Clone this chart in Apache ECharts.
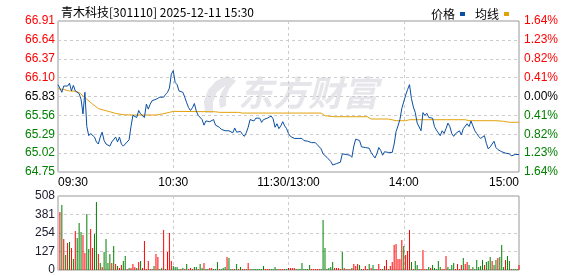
<!DOCTYPE html>
<html><head><meta charset="utf-8">
<script src="https://cdn.jsdelivr.net/npm/echarts@6/dist/echarts.min.js"></script>
<style>html,body{margin:0;padding:0;background:#fff}#c{width:578px;height:276px}</style>
</head><body><div id="c"></div>
<script>
const titleText = '青木科技[301110] 2025-12-11 15:30';
const seriesNames = ['价格', '均线'];
const watermarkText = '东方财富';
const preClose = 65.83;
const priceTicks = [64.75, 65.02, 65.29, 65.56, 65.83, 66.10, 66.37, 66.64, 66.91];
const pctTicks = [-1.64, -1.23, -0.82, -0.41, 0, 0.41, 0.82, 1.23, 1.64];
const volumeTicks = [0, 127, 254, 381, 508];
const timeTicks = ['09:30', '10:30', '11:30/13:00', '14:00', '15:00'];
// [minute index from 09:30, price]
const priceData = [
[0,66.00],[2,65.89],[3,65.98],[5,65.98],[6,66.02],[7,65.91],[8,65.99],[9,65.91],[10,65.89],[11,65.87],
[12,65.79],[13,65.58],[14,65.89],[15,65.40],[16,65.27],[17,65.30],[18,65.32],[19,65.25],[20,65.18],[21,65.15],
[22,65.25],[23,65.32],[24,65.20],[25,65.15],[26,65.14],[27,65.12],[28,65.18],[29,65.20],[30,65.25],[31,65.18],
[32,65.25],[33,65.15],[34,65.12],[35,65.15],[36,65.13],[37,65.21],[38,65.40],[39,65.56],[40,65.58],[41,65.53],
[42,65.63],[43,65.58],[44,65.56],[45,65.53],[46,65.72],[47,65.65],[48,65.72],[49,65.77],[50,65.75],[51,65.79],
[52,65.80],[53,65.82],[54,65.84],[55,65.82],[56,65.86],[57,65.89],[58,65.95],[59,66.15],[60,66.20],[61,66.03],
[62,66.00],[63,65.91],[64,65.89],[65,65.89],[66,65.82],[67,65.74],[68,65.67],[69,65.63],[70,65.67],[71,65.73],
[72,65.62],[73,65.56],[74,65.58],[75,65.50],[76,65.42],[77,65.48],[78,65.46],[79,65.47],[80,65.46],[81,65.50],
[82,65.42],[83,65.41],[84,65.39],[85,65.36],[86,65.34],[87,65.34],[88,65.33],[89,65.34],[90,65.32],[91,65.31],
[92,65.38],[93,65.32],[94,65.31],[95,65.33],[96,65.29],[97,65.26],[98,65.31],[99,65.39],[100,65.50],[101,65.51],
[102,65.48],[103,65.52],[104,65.50],[105,65.52],[106,65.46],[107,65.50],[108,65.48],[109,65.52],[110,65.53],[111,65.55],
[112,65.51],[113,65.39],[114,65.44],[115,65.37],[116,65.41],[117,65.47],[118,65.41],[119,65.37],[120,65.30],
[121,65.26],[122,65.25],[123,65.23],[124,65.22],[125,65.23],[126,65.22],[127,65.23],[128,65.20],[129,65.21],[130,65.19],
[131,65.20],[132,65.17],[133,65.15],[134,65.17],[135,65.14],[136,65.15],[137,65.08],[138,65.01],[139,64.99],[140,64.96],
[141,64.94],[142,64.90],[143,64.85],[144,64.87],[145,64.87],[146,64.88],[147,64.89],[148,65.01],[149,64.99],[150,65.00],
[151,64.98],[152,64.99],[153,64.96],[154,65.12],[155,65.22],[156,65.23],[157,65.20],[158,65.11],[159,65.09],[160,65.10],
[161,65.10],[162,65.09],[163,65.03],[164,64.99],[165,64.95],[166,65.01],[167,65.10],[168,65.06],[169,64.99],[170,65.04],
[171,65.03],[172,65.03],[173,65.03],[174,65.03],[175,65.15],[176,65.33],[177,65.41],[178,65.50],[179,65.66],[180,65.65],
[181,65.85],[182,65.93],[183,66.00],[184,65.80],[185,65.68],[186,65.60],[187,65.45],[188,65.43],[189,65.34],[190,65.60],
[191,65.56],[192,65.59],[193,65.53],[194,65.51],[195,65.52],[196,65.40],[197,65.35],[198,65.31],[199,65.27],[200,65.34],
[201,65.30],[202,65.37],[203,65.45],[204,65.40],[205,65.30],[206,65.26],[207,65.30],[208,65.28],[209,65.34],[210,65.28],
[211,65.37],[212,65.39],[213,65.44],[214,65.40],[215,65.48],[216,65.41],[217,65.34],[218,65.30],[219,65.26],[220,65.23],
[221,65.22],[222,65.27],[223,65.16],[224,65.08],[225,65.11],[226,65.12],[227,65.19],[228,65.10],[229,65.07],[230,65.07],
[231,65.04],[232,65.03],[233,65.02],[234,65.02],[235,65.01],[236,64.98],[237,65.00],[238,65.00],[239,65.00],[240,65.00]
];
// [minute index, average price]
const avgData = [
[0,65.94],[3,65.93],[6,65.91],[9,65.905],[11,65.887],[13,65.839],[15,65.792],[18,65.721],[21,65.659],[23,65.641],
[27,65.612],[30,65.588],[34,65.569],[39,65.565],[51,65.565],[54,65.579],[58,65.603],[60,65.617],[82,65.612],[84,65.603],
[94,65.603],[96,65.593],[120,65.593],[137,65.593],[139,65.555],[144,65.541],[161,65.541],[163,65.508],[172,65.508],[176,65.484],
[181,65.484],[183,65.498],[212,65.498],[214,65.484],[228,65.484],[232,65.475],[235,65.461],[240,65.461]
];
// [minute index, volume, 1 = up(red) / 0 = down(green)]
const volumeBars = [
[1,398,1],[2,446,0],[3,213,1],[4,103,0],[5,185,1],[6,192,0],[7,151,1],[8,75,0],[9,268,1],[10,220,0],
[11,323,0],[12,261,0],[13,240,1],[14,117,1],[15,384,0],[16,144,0],[17,281,1],[18,151,1],[19,247,0],[20,467,0],
[21,110,1],[22,48,0],[23,21,1],[24,124,0],[25,213,0],[26,48,0],[27,110,0],[28,48,1],[29,165,0],[30,41,1],
[31,27,0],[32,14,1],[33,34,1],[34,62,0],[35,96,0],[36,7,1],[37,14,0],[38,14,1],[39,41,1],[40,21,1],
[41,14,0],[42,55,1],[43,62,0],[44,14,1],[45,199,1],[46,7,1],[47,62,1],[48,7,0],[49,7,1],[50,27,0],
[51,110,1],[52,89,1],[53,7,0],[54,14,0],[55,275,1],[56,7,0],[57,124,1],[58,254,1],[59,62,1],[60,27,0],
[61,21,0],[62,21,0],[63,7,0],[64,7,1],[65,14,0],[66,7,1],[67,41,0],[68,7,1],[69,14,1],[70,7,1],
[71,21,0],[72,21,0],[73,7,1],[74,41,0],[75,14,0],[76,48,1],[77,7,0],[78,7,0],[79,14,1],[80,14,1],
[81,7,0],[82,7,0],[83,55,0],[84,7,1],[85,7,0],[86,14,0],[87,21,0],[88,89,1],[89,82,0],[90,7,0],
[91,7,1],[92,7,0],[93,41,0],[94,7,1],[95,21,0],[96,7,1],[97,7,1],[98,7,0],[99,48,1],[100,7,1],
[101,7,0],[102,7,0],[103,7,0],[104,7,0],[105,7,0],[106,7,0],[107,27,0],[108,7,1],[109,7,1],[110,7,1],
[111,7,0],[112,7,0],[113,21,0],[114,7,0],[115,7,1],[116,7,1],[117,7,1],[118,7,0],[119,7,0],[120,14,1],
[121,14,1],[122,14,1],[123,14,1],[124,7,0],[125,7,0],[126,7,0],[127,48,0],[128,7,0],[129,7,0],[130,7,0],
[131,34,0],[132,7,1],[133,7,1],[134,7,1],[135,7,1],[136,7,1],[137,7,0],[138,343,0],[139,151,0],[140,7,0],
[141,14,0],[142,21,0],[143,55,0],[144,14,1],[145,14,1],[146,14,1],[147,7,1],[148,124,0],[149,14,1],[150,7,0],
[151,7,1],[152,7,1],[153,14,0],[154,41,1],[155,27,1],[156,41,1],[157,34,0],[158,7,0],[159,7,1],[160,27,1],
[161,7,1],[162,41,0],[163,14,1],[164,34,0],[165,7,0],[166,7,1],[167,41,1],[168,7,1],[169,7,0],[170,27,1],
[171,69,1],[172,7,0],[173,27,1],[174,55,1],[175,172,1],[176,178,1],[177,75,1],[178,75,1],[179,206,1],[180,165,0],
[181,103,1],[182,130,1],[183,275,1],[184,55,0],[185,7,1],[186,62,0],[187,34,0],[188,7,0],[189,7,1],[190,137,1],
[191,7,1],[192,7,0],[193,21,0],[194,14,1],[195,34,0],[196,14,0],[197,7,0],[198,62,0],[199,21,0],[200,7,1],
[201,7,1],[202,96,1],[203,21,0],[204,7,0],[205,34,0],[206,48,0],[207,7,1],[208,41,1],[209,7,1],[210,34,1],
[211,82,0],[212,41,1],[213,55,1],[214,34,0],[215,7,1],[216,21,0],[217,7,0],[218,69,0],[219,21,0],[220,27,0],
[221,69,0],[222,34,1],[223,55,0],[224,62,0],[225,89,0],[226,62,1],[227,34,0],[228,69,0],[229,82,1],[230,89,0],
[231,172,0],[232,21,0],[233,69,1],[234,96,0],[235,62,0],[236,7,1],[237,7,0],[238,7,0],[239,7,0],[240,34,1]
];

const RED = '#ff0000', GREEN = '#008000', BLACK = '#000000';
const PRICE_COLOR = '#0b4fa3', AVG_COLOR = '#e3a20a';
const NUM_FONT = '"Liberation Sans", Arial, sans-serif';
const CJK_FONT = '"Noto Sans CJK SC", "Liberation Sans", sans-serif';
const span = priceTicks[1] - priceTicks[0];
const pSpan = pctTicks[1] - pctTicks[0];

function priceColor(v) { const d = v - preClose; return Math.abs(d) < 1e-6 ? BLACK : (d > 0 ? RED : GREEN); }
function pctColor(v) { return Math.abs(v) < 1e-6 ? BLACK : (v > 0 ? RED : GREEN); }

const dashed = { show: true, lineStyle: { color: '#cccccc', type: [3, 3], width: 1 } };
const chart = echarts.init(document.getElementById('c'), null, { renderer: 'canvas' });
chart.setOption({
  animation: false,
  backgroundColor: '#ffffff',
  title: { text: titleText, left: 56, top: 1, textStyle: { fontSize: 12, fontWeight: 'normal', color: '#000', fontFamily: CJK_FONT } },
  legend: {
    data: seriesNames, right: 64, top: 3, icon: 'rect', itemWidth: 5, itemHeight: 4, align: 'right', itemGap: 10,
    textStyle: { fontSize: 12, color: '#000', fontFamily: CJK_FONT }
  },
  graphic: [
    { type: 'polygon', z: 0, silent: true,
      shape: { points: [[227,76],[216,81],[208,90],[204,101],[205,113],[213,113],[213,102],[217,92],[226,85],[221,93],[219,101],[220,108],[226,106],[226,97],[229,89],[236,81],[232,78]] },
      style: { fill: '#e6e6ea' } },
    { type: 'text', left: 238, top: 75, z: 0, silent: true,
      style: { text: watermarkText, font: 'italic bold 35px "Noto Sans CJK SC"', fill: '#e6e6ea' } }
  ],
  grid: [
    { left: 58, top: 21, width: 461, height: 151, show: true, borderColor: '#999', borderWidth: 1, backgroundColor: 'transparent' },
    { left: 58, top: 196, width: 461, height: 74, show: true, borderColor: '#999', borderWidth: 1, backgroundColor: 'transparent' }
  ],
  xAxis: [
    { type: 'value', gridIndex: 0, min: 0, max: 240, interval: 60,
      axisLine: { show: false }, axisTick: { show: false }, splitLine: dashed,
      axisLabel: { show: true, margin: 5, color: '#000', fontSize: 12, fontFamily: NUM_FONT,
        alignMinLabel: 'left', alignMaxLabel: 'right', formatter: v => timeTicks[Math.round(v / 60)] } },
    { type: 'value', gridIndex: 1, min: 0, max: 240, interval: 60,
      axisLine: { show: false }, axisTick: { show: false }, splitLine: dashed, axisLabel: { show: false } }
  ],
  yAxis: [
    { type: 'value', gridIndex: 0, min: priceTicks[0], max: priceTicks[priceTicks.length - 1], interval: span,
      axisLine: { show: false }, axisTick: { show: false }, splitLine: dashed,
      axisLabel: { margin: 3, fontSize: 12, fontFamily: NUM_FONT, formatter: v => v.toFixed(2), color: v => priceColor(v) } },
    { type: 'value', gridIndex: 0, position: 'right', min: pctTicks[0], max: pctTicks[pctTicks.length - 1], interval: pSpan,
      axisLine: { show: false }, axisTick: { show: false }, splitLine: { show: false },
      axisLabel: { margin: 5, fontSize: 12, fontFamily: NUM_FONT, formatter: v => Math.abs(v).toFixed(2) + '%', color: v => pctColor(v) } },
    { type: 'value', gridIndex: 1, min: volumeTicks[0], max: volumeTicks[volumeTicks.length - 1], interval: volumeTicks[1] - volumeTicks[0],
      axisLine: { show: false }, axisTick: { show: false }, splitLine: dashed,
      axisLabel: { margin: 3, fontSize: 12, color: '#1a1a2e', fontFamily: NUM_FONT } }
  ],
  series: [
    { name: seriesNames[0], type: 'line', xAxisIndex: 0, yAxisIndex: 0, data: priceData, symbol: 'none', z: 4,
      lineStyle: { color: PRICE_COLOR, width: 1 }, itemStyle: { color: PRICE_COLOR } },
    { name: seriesNames[1], type: 'line', xAxisIndex: 0, yAxisIndex: 0, data: avgData, symbol: 'none', z: 3,
      lineStyle: { color: AVG_COLOR, width: 1 }, itemStyle: { color: AVG_COLOR } },
    { name: '成交量', type: 'bar', xAxisIndex: 1, yAxisIndex: 2, barWidth: 1, barGap: '-100%',
      data: volumeBars.map(b => ({ value: [b[0], b[1]], itemStyle: { color: b[2] ? RED : GREEN } })) }
  ]
});
</script></body></html>
